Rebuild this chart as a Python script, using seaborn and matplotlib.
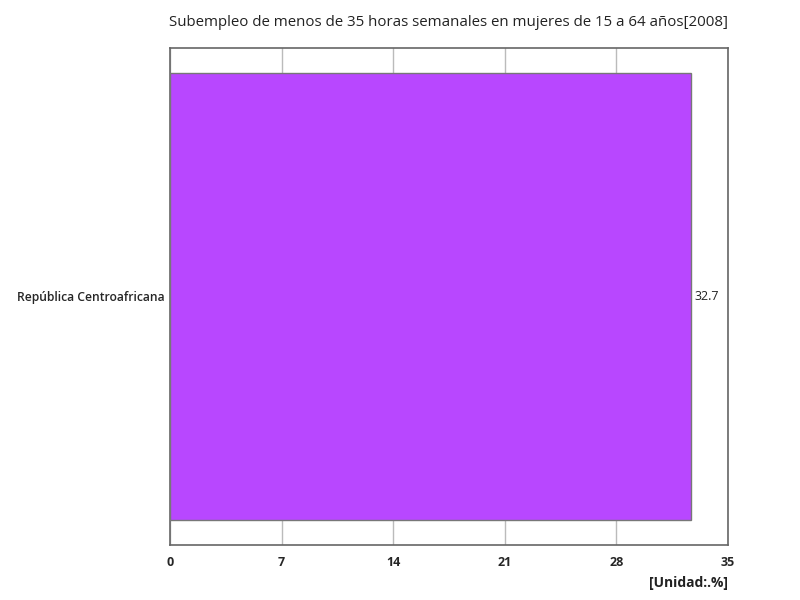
import pandas as pd
import seaborn as sns
import matplotlib.pyplot as plt

# data
countries = ['República Centroafricana']
values = [32.7]
title = 'Subempleo de menos de 35 horas semanales en mujeres de 15 a 64 años[2008]'
xticks = [0, 7, 14, 21, 28, 35]

df = pd.DataFrame({'country': countries, 'value': values})

sns.set_theme(style='white')
plt.rcParams['font.family'] = ['Open Sans', 'DejaVu Sans']

fig = plt.figure(figsize=(8, 6), dpi=100)
ax = fig.add_axes([0.2125, 0.092, 0.6975, 0.828])

sns.barplot(data=df, x='value', y='country', orient='h', color='#b847ff',
            saturation=1, width=0.9, edgecolor='#777777', linewidth=1, ax=ax, zorder=3)

ax.set_xlim(0, 35)
ax.set_xticks(xticks)
ax.set_xticklabels([str(t) for t in xticks], fontweight='bold', fontsize=9)
ax.set_yticks(range(len(countries)))
ax.set_yticklabels(countries, fontweight='semibold', fontsize=8.7)
ax.xaxis.grid(True, color='#bbbbbb', linewidth=1, zorder=0)
ax.set_axisbelow(True)
for s in ax.spines.values():
    s.set_color('#666666')
    s.set_linewidth(1.2)
ax.set_xlabel('')
ax.set_ylabel('')
ax.tick_params(axis='x', length=0, pad=8)
ax.tick_params(axis='y', length=0, pad=4)

for p, v in zip(ax.patches, values):
    ax.text(p.get_width() + 0.2, p.get_y() + p.get_height() / 2, f'{v}',
            va='center', ha='left', fontsize=9, color='#222222')

fig.text(0.561, 0.962, title, ha='center', va='center', fontsize=10.8, color='#222222')
fig.text(0.91, 0.028, '[Unidad:.%]', ha='right', va='center', fontsize=10,
         fontweight='bold', color='#222222')

fig.savefig('out.png', dpi=100)
